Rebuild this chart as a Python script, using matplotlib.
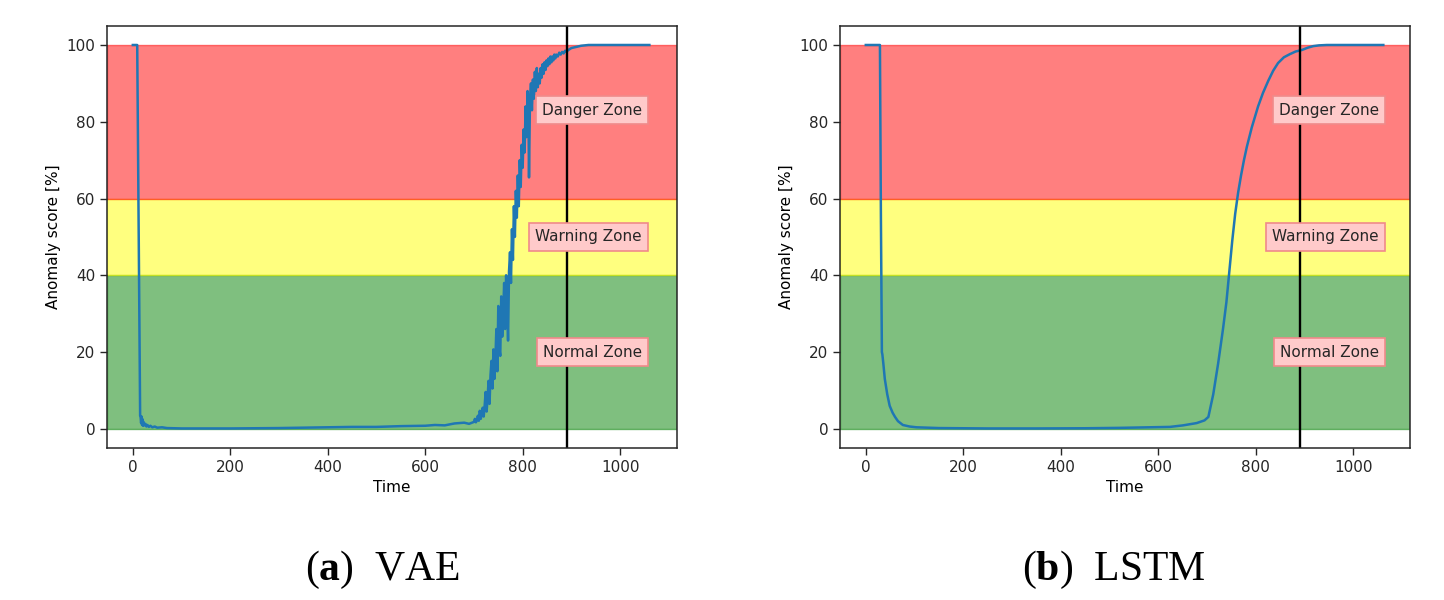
import matplotlib
matplotlib.use('Agg')
import matplotlib.pyplot as plt

# values
vae_t = [0, 9, 15, 16, 17, 18, 19, 20, 21, 22, 24, 26, 28, 30, 33, 36, 40, 45, 50, 60, 70,
         100, 200, 300, 400, 450, 500, 550, 600, 620, 640, 660, 680, 690,
         700, 702, 704, 706, 708, 710, 712, 714, 716, 718, 720, 722, 724, 726, 728, 730,
         732, 734, 736, 738, 740, 742, 744, 746, 748, 750, 752, 754, 756, 758, 760, 762,
         764, 766, 768, 770, 772, 774, 776, 778, 780, 782, 784, 786, 788, 790, 792, 794,
         796, 798, 800, 802, 804, 806, 808, 810, 812, 813, 815, 817, 819, 821, 823, 825,
         827, 829, 831, 833, 835, 837, 839, 841, 843, 845, 847, 849, 851, 853, 855, 857,
         859, 861, 863, 865, 867, 869, 872, 875, 878, 881, 884, 887, 890, 895, 900,
         910, 920, 935, 1060]
vae_y = [100, 100, 3.4, 3.0, 1.5, 3.2, 1.0, 2.5, 0.8, 1.8, 0.9, 1.3, 0.6, 1.0, 0.5, 0.8, 0.4, 0.6, 0.3, 0.4, 0.2,
         0.1, 0.1, 0.2, 0.4, 0.5, 0.5, 0.7, 0.8, 1.0, 0.9, 1.4, 1.6, 1.3,
         1.8, 2.6, 1.7, 2.2, 3.4, 2.1, 4.7, 2.6, 3.8, 5.5, 3.2, 6.0, 9.6, 4.5, 8.0, 12.5,
         6.5, 14.0, 17.7, 10.5, 20.7, 13.0, 18.0, 26.0, 15.0, 32.0, 21.0, 19.0, 34.5, 24.0, 30.0, 38.0,
         26.0, 40.0, 33.0, 23.0, 41.0, 46.0, 38.0, 52.0, 44.0, 58.0, 50.0, 62.0, 55.0, 66.0, 58.0, 70.0,
         63.0, 74.0, 68.0, 78.0, 72.0, 84.0, 76.0, 88.0, 80.0, 65.5, 86.0, 90.0, 83.0, 91.0, 86.0, 93.0,
         88.0, 94.0, 89.0, 92.5, 90.0, 94.0, 91.5, 95.0, 92.5, 95.5, 93.5, 96.0, 94.5, 96.5, 95.0, 97.0,
         95.5, 97.0, 96.0, 97.5, 96.5, 97.5, 97.0, 98.0, 97.5, 98.2, 97.8, 98.5, 98.3, 98.8, 99.2,
         99.5, 99.8, 100, 100]

lstm_t = [0, 29, 31, 33, 34, 36, 39, 44, 49, 55, 60, 66, 76, 90, 104, 150, 250, 350, 450, 520,
          583, 624, 651, 679, 695, 703, 713, 723, 733, 740, 746, 752, 758, 764, 770, 776, 782,
          792, 805, 815, 826, 836, 846, 858, 870, 882, 895, 907, 918, 930, 946, 1000, 1062]
lstm_y = [100, 100, 55, 20, 19.4, 17, 13, 9, 6, 4.2, 3.1, 2, 1, 0.6, 0.4, 0.2, 0.1, 0.1, 0.15, 0.25,
          0.4, 0.5, 0.9, 1.5, 2.2, 3.1, 9, 17, 26, 33, 41, 49, 56, 61.5, 66, 70, 73.5,
          78.5, 84, 87.5, 90.7, 93.3, 95.3, 96.8, 97.6, 98.3, 98.7, 99.3, 99.7, 99.9, 100, 100, 100]

zones = [(0, 40, 'green', 'Normal Zone', 20),
         (40, 60, 'yellow', 'Warning Zone', 50),
         (60, 100, 'red', 'Danger Zone', 83)]
fail_time = 891
panels = [('a', 'VAE', vae_t, vae_y, 1045), ('b', 'LSTM', lstm_t, lstm_y, 1053)]

plt.rcParams['font.size'] = 11
plt.rcParams['mathtext.fontset'] = 'custom'
plt.rcParams['mathtext.rm'] = 'Liberation Serif'
plt.rcParams['mathtext.bf'] = 'Liberation Serif:bold'

fig = plt.figure(figsize=(14.44, 6), dpi=100)
lefts = [0.0741, 0.5817]
cap_x = [0.2645, 0.7715]

for i, (tag, name, t, y, lab_x) in enumerate(panels):
    ax = fig.add_axes([lefts[i], 0.2533, 0.3945, 0.7037])
    for lo, hi, c, label, ly in zones:
        ax.axhspan(lo, hi, color=c, alpha=0.5)
        ax.text(lab_x, ly, label, ha='right', va='center', color='#262626', fontsize=11,
                bbox=dict(facecolor='#ffcaca', edgecolor='#f08a8a', pad=4.5, linewidth=1.2))
    ax.plot(t, y, color='#1f77b4', lw=1.8)
    ax.axvline(fail_time, color='black', lw=1.7)
    ax.set_xlim(-53, 1116)
    ax.set_ylim(-5, 105)
    ax.set_xlabel('Time')
    ax.set_ylabel('Anomaly score [%]')
    ax.tick_params(length=5, width=1, colors='#262626', labelcolor='#262626')
    for s in ax.spines.values():
        s.set_linewidth(1.1)
        s.set_color('#262626')
    fig.text(cap_x[i], 0.033, r'($\mathbf{' + tag + r'}$)  ' + name, ha='center', va='baseline',
             fontsize=30, family='Liberation Serif', math_fontfamily='custom')

fig.savefig('out.png', dpi=100)
